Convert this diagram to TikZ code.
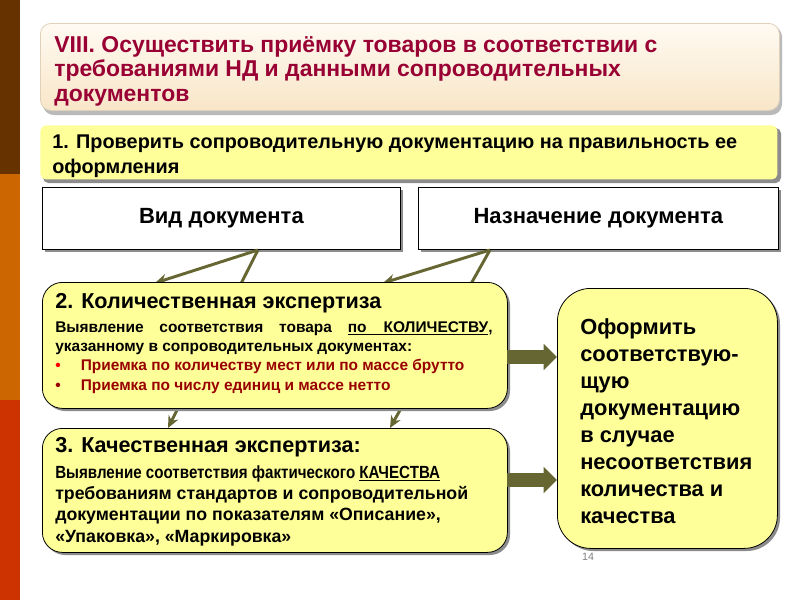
\documentclass[tikz,border=0pt]{standalone}
\usepackage{fontspec}
\setmainfont{Liberation Sans}
\newfontfamily\nar[FakeStretch=0.86]{Liberation Sans}
\usetikzlibrary{arrows.meta,calc}
\definecolor{brn}{HTML}{663300}
\definecolor{org}{HTML}{CC6600}
\definecolor{rdo}{HTML}{CC3300}
\definecolor{ttl}{HTML}{990033}
\definecolor{yel}{HTML}{FFFF99}
\definecolor{olv}{HTML}{666633}
\definecolor{dred}{HTML}{990000}
\definecolor{shd}{HTML}{8C8C8C}
\definecolor{cream1}{HTML}{FFFAF2}
\definecolor{cream2}{HTML}{F8E6C8}
\tikzset{
  box/.style={draw=black, line width=0.6pt, inner sep=0pt, anchor=north west},
  txt/.style={inner sep=0pt, anchor=north west, align=left},
  thin arrow/.style={draw=olv, line width=2.2pt, -{Stealth[length=9pt,width=8pt]}},
  fat arrow/.style={draw=olv, line width=10pt, -{Triangle[length=10pt,width=19pt]}},
}
\begin{document}
\begin{tikzpicture}[x=0.75pt,y=-0.75pt]
\useasboundingbox (0,0) rectangle (800,600);
\fill[white] (0,0) rectangle (800,600);
% left stripe
\fill[brn] (0,0) rectangle (20,174);
\fill[org] (0,174) rectangle (20,400);
\fill[rdo] (0,400) rectangle (20,600);

% title box
\fill[shd!60, rounded corners=8pt] (43,26) rectangle (782,115);
\node[box, draw=cream2!80!gray, rounded corners=8pt, top color=cream1, bottom color=cream2,
  minimum width=739*0.75pt, minimum height=87*0.75pt] (title) at (40,23) {};
\node[txt, text=ttl, font=\bfseries\fontsize{17.2pt}{18.4pt}\selectfont] (titletext) at (54,36)
  {VIII. Осуществить приёмку товаров в соответствии с\\
   требованиями НД и данными сопроводительных\\ документов};

% box 1
\fill[shd, rounded corners=4pt] (43,128) rectangle (781,183);
\node[box, draw=none, fill=yel, rounded corners=4pt,
  minimum width=737*0.75pt, minimum height=54*0.75pt] (step1) at (40,125) {};
\node[txt, font=\bfseries\fontsize{14.9pt}{18.3pt}\selectfont] (step1text) at (52,135)
  {1. Проверить сопроводительную документацию на правильность ее\\ оформления};

% document boxes
\fill[shd] (45,190) rectangle (403,252);
\node[box, fill=white, minimum width=358*0.75pt, minimum height=62*0.75pt] (vid) at (42,187) {};
\node[font=\bfseries\fontsize{16.5pt}{18pt}\selectfont] at (vid.center) {Вид документа};
\fill[shd] (421,190) rectangle (781,252);
\node[box, fill=white, minimum width=360*0.75pt, minimum height=62*0.75pt] (nazn) at (418,187) {};
\node[font=\bfseries\fontsize{16.5pt}{18pt}\selectfont] at (nazn.center) {Назначение документа};

% connectors behind box 2
\coordinate (v1) at (258,250);
\coordinate (n1) at (490,250);
\coordinate (q1) at (155,283);
\coordinate (q2) at (383,283);
\coordinate (k1) at (168,428);
\coordinate (k2) at (390,428);
\draw[thin arrow] (v1) -- (q1);
\draw[thin arrow] (n1) -- (q2);
\draw[thin arrow] (v1) -- (k1);
\draw[thin arrow] (n1) -- (k2);

% box 2
\fill[shd, rounded corners=15pt] (45,285) rectangle (510,411);
\node[box, fill=yel, rounded corners=15pt, minimum width=465*0.75pt, minimum height=126*0.75pt] (quant) at (42,282) {};
\node[txt, font=\bfseries\fontsize{16.2pt}{18pt}\selectfont] (quanttitle) at (55,293)
  {2. Количественная экспертиза};
\node[txt, font=\bfseries\fontsize{11.6pt}{14.5pt}\selectfont] (quanttext) at (55,321)
  {\hbox to 328pt{Выявление\hfill соответствия\hfill товара\hfill \underline{по\hspace{1.1em}КОЛИЧЕСТВУ},}\\
   указанному в сопроводительных документах:\\
   \textcolor{red}{\textbullet}\hspace{1.3em}\textcolor{dred}{Приемка по количеству мест или по массе брутто}\\
   \textcolor{dred}{\textbullet}\hspace{1.3em}\textcolor{dred}{Приемка по числу единиц и массе нетто}};

% box 3
\fill[shd, rounded corners=15pt] (45,431) rectangle (510,555);
\node[box, fill=yel, rounded corners=15pt, minimum width=465*0.75pt, minimum height=124*0.75pt] (qual) at (42,428) {};
\node[txt, font=\bfseries\fontsize{16.2pt}{18pt}\selectfont] (qualtitle) at (55,437)
  {3. Качественная экспертиза:};
\node[txt, font=\bfseries\fontsize{13.3pt}{16pt}\selectfont] (qualtext) at (55,465)
  {{\nar\fontsize{13.2pt}{16pt}\selectfont Выявление соответствия фактического \underline{КАЧЕСТВА}}\\
   требованиям стандартов и сопроводительной\\
   документации по показателям «Описание»,\\
   «Упаковка», «Маркировка»};

% right box
\fill[shd, rounded corners=25pt] (560,291) rectangle (780,551);
\node[box, fill=yel, rounded corners=25pt, minimum width=220*0.75pt, minimum height=260*0.75pt] (doc) at (557,288) {};
\node[txt, font=\bfseries\fontsize{16.4pt}{20.3pt}\selectfont] (doctext) at (580,318)
  {Оформить\\ соответствую-\\ щую\\ документацию\\ в случае\\ несоответствия\\ количества и\\ качества};

% fat arrows
\coordinate (a1s) at (507,357);
\coordinate (a1e) at (557,357);
\coordinate (a2s) at (507,480);
\coordinate (a2e) at (557,480);
\draw[fat arrow] (a1s) -- (a1e);
\draw[fat arrow] (a2s) -- (a2e);

% page number
\node[inner sep=0pt, text=gray, font=\fontsize{8pt}{9pt}\selectfont] (pnum) at (588,557) {14};
\end{tikzpicture}
\end{document}
